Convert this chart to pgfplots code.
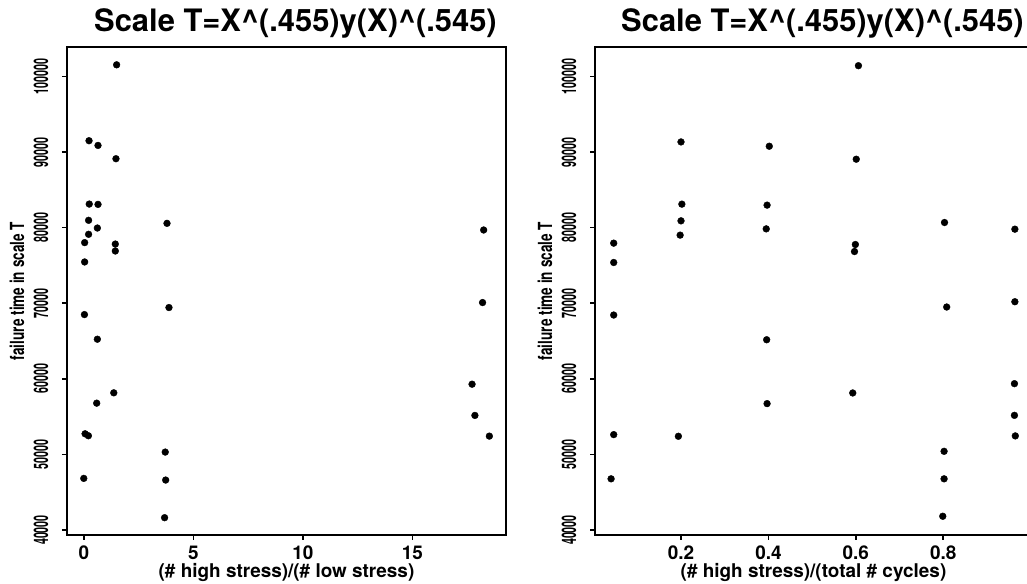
\documentclass[border=0pt]{standalone}
\usepackage{fontspec}
\setmainfont{TeX Gyre Heros}
\usepackage{graphicx}
\usepackage{pgfplots}
\pgfplotsset{compat=1.18}

% shared look of both panels
\pgfplotsset{
  scalepanel/.style={
    scale only axis, height=488bp, anchor=south west,
    ymin=39340, ymax=103900,
    ytick={40000,50000,60000,70000,80000,90000,100000},
    scaled ticks=false,
    tick pos=left, tick align=outside, major tick length=5bp,
    axis line style={line width=2.2bp},
    every tick/.style={black, line width=1.6bp},
    /pgf/number format/assume math mode=true,
    /pgf/number format/fixed,
    /pgf/number format/1000 sep={},
    xticklabel style={font=\fontsize{19}{19}\selectfont\bfseries, anchor=base, inner sep=0pt},
    xticklabel shift=19bp,
    yticklabel={\scalebox{0.54}[1]{\pgfmathprintnumber{\tick}}},
    yticklabel style={font=\fontsize{20}{20}\selectfont\bfseries, rotate=90, anchor=base, inner sep=0pt},
    yticklabel shift=14bp,
    title style={font=\fontsize{31}{31}\selectfont\bfseries, inner sep=0pt, anchor=base, yshift=0pt,
      at={([xshift=9bp,yshift=10bp]axis description cs:0.5,1)}},
    ylabel={\scalebox{0.7}[1]{failure time in scale T}},
    ylabel style={font=\fontsize{19.5}{19.5}\selectfont\bfseries, inner sep=0pt, anchor=base,
      at={([xshift=-43bp]axis description cs:0,0.5)}},
    xlabel style={font=\fontsize{19}{19}\selectfont\bfseries, inner sep=0pt, anchor=base,
      at={([yshift=-42bp]axis description cs:0.5,0)}},
    title={Scale T=X\textasciicircum(.455)y(X)\textasciicircum(.545)},
  },
  dots/.style={only marks, mark=*, mark size=3.4bp, black},
}

\begin{document}
\begin{tikzpicture}
\useasboundingbox (0,0) rectangle (1027bp,584bp);
\clip (0,0) rectangle (1027bp,584bp);

\begin{axis}[scalepanel, at={(67bp,49bp)}, width=439bp,
  xmin=-0.776, xmax=19.27, xtick={0,5,10,15},
  xlabel={(\# high stress)/(\# low stress)}]
  \addplot[dots] coordinates {
    (1.49,101540) (0.23,91500) (0.64,90880) (1.46,89120)
    (0.24,83120) (0.64,83080) (0.21,80970) (0.61,79950)
    (3.79,80570) (0.21,79120) (0.03,78020) (1.43,77830)
    (1.43,76910) (0.03,75460) (3.88,69430) (0.02,68500)
    (0.61,65240) (1.36,58150) (0.58,56780) (0.05,52730)
    (0.20,52470) (3.71,50310) (3.73,46610) (-0.01,46830)
    (3.68,41630) (18.25,79690) (18.20,70090) (17.72,59290)
    (17.85,55160) (18.51,52420)
  };
\end{axis}

\begin{axis}[scalepanel, at={(595bp,49bp)}, width=437bp,
  xmin=0.0032, xmax=1.0032, xtick={0.2,0.4,0.6,0.8},
  xlabel={(\# high stress)/(total \# cycles)}]
  \addplot[dots] coordinates {
    (0.606,101425) (0.200,91340) (0.402,90770) (0.601,89055)
    (0.202,83110) (0.397,82980) (0.803,80680) (0.200,80900)
    (0.395,79840) (0.964,79800) (0.198,79010) (0.046,77950)
    (0.599,77770) (0.597,76840) (0.046,75390) (0.964,70200)
    (0.808,69500) (0.046,68440) (0.396,65170) (0.593,58130)
    (0.963,59360) (0.397,56720) (0.963,55170) (0.046,52620)
    (0.194,52400) (0.965,52450) (0.802,50410) (0.040,46770)
    (0.802,46770) (0.799,41820)
  };
\end{axis}
\end{tikzpicture}
\end{document}
